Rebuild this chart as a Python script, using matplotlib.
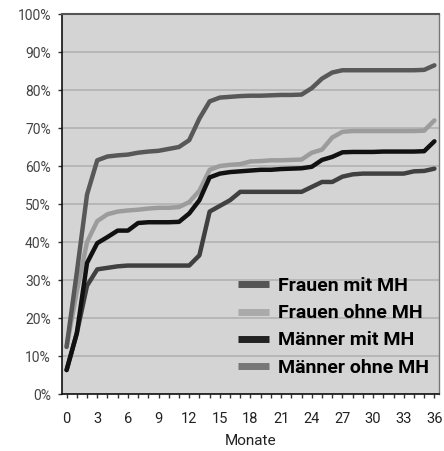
import matplotlib.pyplot as plt
from matplotlib.lines import Line2D
from matplotlib.ticker import FixedLocator, MultipleLocator

# Monate 0..36
monate = list(range(37))

frauen_mit_mh = [12.4, 32, 52.5, 61.5, 62.5, 62.8, 63, 63.5, 63.8, 64, 64.5, 65, 66.8,
                 72.5, 77, 78, 78.2, 78.4, 78.5, 78.5, 78.6, 78.7, 78.7, 78.8, 80.5,
                 83, 84.6, 85.2, 85.2, 85.2, 85.2, 85.2, 85.2, 85.2, 85.2, 85.3, 86.5]
frauen_ohne_mh = [12.4, 27, 40, 45.5, 47.3, 48, 48.3, 48.5, 48.8, 49, 49, 49.2, 50.5,
                  53.5, 59, 60, 60.3, 60.5, 61.2, 61.3, 61.5, 61.5, 61.6, 61.7, 63.5,
                  64.3, 67.5, 69, 69.2, 69.2, 69.2, 69.2, 69.2, 69.2, 69.2, 69.3, 72]
maenner_mit_mh = [6.3, 16, 34.5, 39.7, 41.3, 43, 43, 45, 45.2, 45.2, 45.2, 45.3, 47.5,
                  51, 57, 58, 58.4, 58.6, 58.8, 59, 59, 59.2, 59.3, 59.4, 59.8,
                  61.6, 62.4, 63.6, 63.7, 63.7, 63.7, 63.8, 63.8, 63.8, 63.8, 63.9, 66.5]
maenner_ohne_mh = [6.3, 16, 28.5, 32.8, 33.2, 33.6, 33.8, 33.8, 33.8, 33.8, 33.8, 33.8, 33.8,
                   36.5, 48, 49.5, 51, 53.2, 53.2, 53.2, 53.2, 53.2, 53.2, 53.2, 54.5,
                   55.8, 55.8, 57.2, 57.8, 58, 58, 58, 58, 58, 58.6, 58.7, 59.3]

labels = ["Frauen mit MH", "Frauen ohne MH", "Männer mit MH", "Männer ohne MH"]
x_labels = list(range(0, 37, 3))
y_ticks = list(range(0, 101, 10))

fig = plt.figure(figsize=(4.44, 4.51), dpi=100)
ax = fig.add_axes([62 / 444, 57 / 451, 377 / 444, 380 / 451])
ax.set_facecolor('#d4d4d4')

# Linien
ax.plot(monate, maenner_ohne_mh, color='#404040', lw=3.2, solid_capstyle='round', zorder=3)
ax.plot(monate, frauen_ohne_mh, color='#9c9c9c', lw=3.2, solid_capstyle='round', zorder=3)
ax.plot(monate, frauen_mit_mh, color='#585858', lw=3.2, solid_capstyle='round', zorder=3)
ax.plot(monate, maenner_mit_mh, color='#111111', lw=3.2, solid_capstyle='round', zorder=4)

ax.set_xlim(-0.45, 36.45)
ax.set_ylim(0, 100)

ax.yaxis.set_major_locator(FixedLocator(y_ticks))
ax.set_yticklabels([f"{v}%" for v in y_ticks], family='Roboto', fontsize=10,
                   color='#444444')
ax.grid(axis='y', color='#b4b4b4', lw=1.3, zorder=1)
ax.set_axisbelow(True)

ax.xaxis.set_major_locator(FixedLocator(x_labels))
ax.xaxis.set_minor_locator(MultipleLocator(1))
ax.set_xticklabels([str(v) for v in x_labels], family='Roboto', fontsize=10.5, color='#222222')
ax.tick_params(axis='x', which='both', length=3, width=1, color='#333333', pad=10)
ax.tick_params(axis='y', length=3, width=1, color='#333333', pad=5)
ax.set_xlabel("Monate", family='Roboto', fontsize=11, color='#222222', labelpad=6)

for side in ['left', 'bottom']:
    ax.spines[side].set_color('#111111')
    ax.spines[side].set_linewidth(1.2)
ax.spines['top'].set_color('#555555')
ax.spines['top'].set_linewidth(1.5)
ax.spines['right'].set_color('#777777')
ax.spines['right'].set_linewidth(1.0)

# Legende
legend_colors = ['#555555', '#aaaaaa', '#222222', '#777777']
handles = [Line2D([0], [0], color=c, lw=5, solid_capstyle='butt') for c in legend_colors]
ax.legend(handles, labels, loc='lower right', bbox_to_anchor=(1.005, 0.015), frameon=False,
          prop={'family': 'Roboto', 'weight': 'bold', 'size': 14},
          handlelength=1.6, handletextpad=0.45, labelspacing=0.47, borderaxespad=0.2)

fig.savefig('out.png', dpi=100)
